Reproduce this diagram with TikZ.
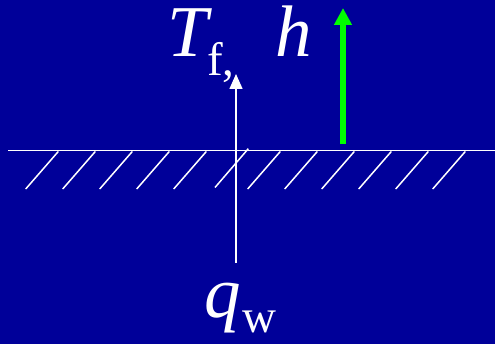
\documentclass[tikz,border=0pt]{standalone}
\usepackage{fontspec}
\setmainfont{Liberation Serif}
\usetikzlibrary{arrows.meta}
\definecolor{bgblue}{RGB}{0,0,153}
\definecolor{arrgreen}{RGB}{0,255,0}
\begin{document}
\begin{tikzpicture}[x=1pt,y=-1pt,
  wline/.style={draw=white,line width=1.5pt},
  hatchline/.style={draw=white,line width=1.5pt},
  lbl/.style={text=white,inner sep=0pt,anchor=base west},
  big/.style={font=\fontsize{73}{73}\selectfont\itshape},
  small/.style={font=\fontsize{47}{47}\selectfont}]
\fill[bgblue] (0,0) rectangle (495,344);
\useasboundingbox (0,0) rectangle (495,344);
% surface
\coordinate (sL) at (8,150.5);
\coordinate (sR) at (495,150.5);
\draw[draw=white,line width=1.8pt] (sL) -- (sR);
% hatching
\foreach \i in {0,...,4,6,7,...,11}{
  \draw[hatchline] ({25.7+37*\i},189) -- ({58.3+37*\i},151.5);
}
\coordinate (h5a) at (215,187.5);
\coordinate (h5b) at (248.3,148.7);
\draw[hatchline] (h5a) -- (h5b);
% heat flux arrow
\coordinate (qa) at (236,263);
\coordinate (qb) at (236,74);
\draw[wline,-{Triangle[width=13pt,length=15pt]}] (qa) -- (qb);
% green arrow
\coordinate (ga) at (343,144);
\coordinate (gb) at (343,8);
\draw[draw=arrgreen,line width=6pt,-{Triangle[width=17pt,length=17pt]},fill=arrgreen] (ga) -- (gb);
% labels
\node[lbl,big] (T) at (167,57) {T};
\node[lbl,small] (f) at (207,76) {f,};
\node[lbl,big] (h) at (275,57) {h};
\node[lbl,big] (q) at (204,318) {q};
\node[lbl,small] (w) at (242,333) {w};
\end{tikzpicture}
\end{document}
